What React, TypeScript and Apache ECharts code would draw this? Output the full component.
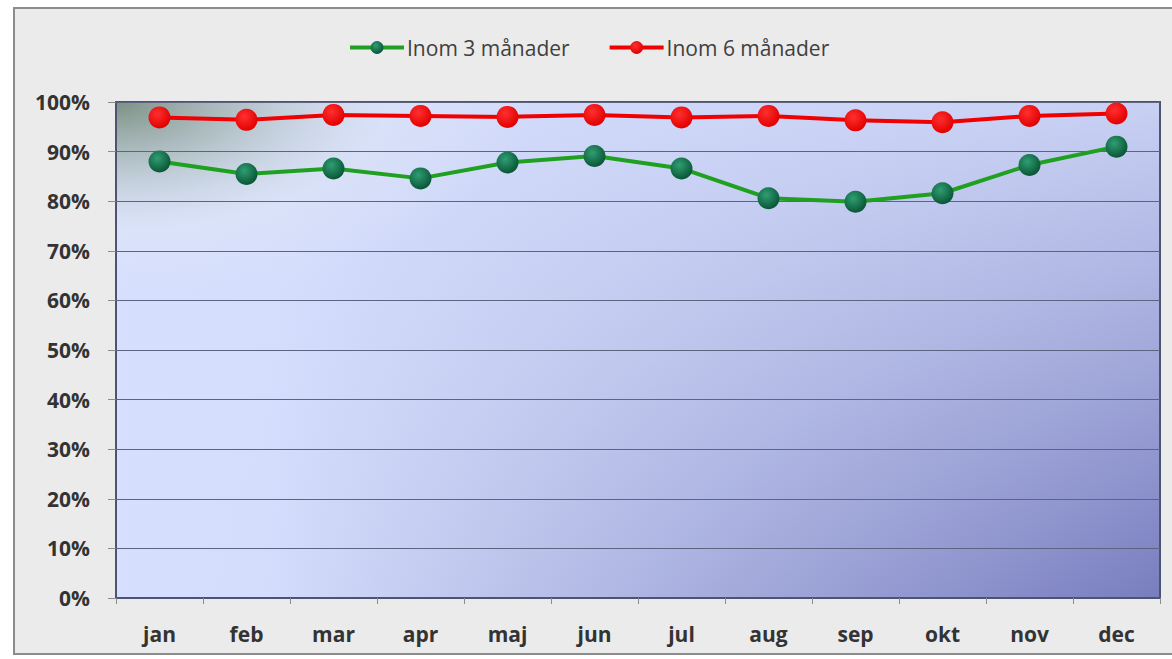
import React, { useEffect, useRef } from "react";
import * as echarts from "echarts";

const months = ["jan", "feb", "mar", "apr", "maj", "jun", "jul", "aug", "sep", "okt", "nov", "dec"];
const within3 = [0.88, 0.855, 0.866, 0.846, 0.878, 0.891, 0.866, 0.806, 0.799, 0.816, 0.873, 0.91];
const within6 = [0.969, 0.964, 0.974, 0.972, 0.97, 0.974, 0.969, 0.972, 0.963, 0.959, 0.972, 0.977];
const seriesNames = ["Inom 3 månader", "Inom 6 månader"];

const GL = 116, GT = 102, GW = 1044, GH = 496;

export default function App() {
  const ref = useRef<HTMLDivElement>(null);
  useEffect(() => {
    document.body.style.margin = "0";
    const chart = echarts.init(ref.current!, null, { renderer: "svg" });
    const font = "'Open Sans', 'Noto Sans', sans-serif";
    const greenSym = new echarts.graphic.RadialGradient(0.4, 0.35, 0.65, [
      { offset: 0, color: "#2f9e72" },
      { offset: 1, color: "#0a5637" },
    ]);
    const redSym = new echarts.graphic.RadialGradient(0.4, 0.35, 0.65, [
      { offset: 0, color: "#ff3030" },
      { offset: 1, color: "#e20000" },
    ]);
    chart.setOption({
      animation: false,
      backgroundColor: "#ffffff",
      graphic: [
        {
          type: "rect",
          z: -30,
          silent: true,
          shape: { x: 14, y: 8, width: 1170, height: 646 },
          style: { fill: "#ebebeb", stroke: "#8c8c8c", lineWidth: 2 },
        },
        {
          type: "rect",
          z: -20,
          silent: true,
          shape: { x: GL, y: GT, width: GW, height: GH },
          style: {
            fill: new echarts.graphic.LinearGradient(0, 0, 1, 0, [
              { offset: 0, color: "#d6dffd" },
              { offset: 0.15, color: "#d3dcfb" },
              { offset: 1, color: "#787dbe" },
            ]),
          },
        },
        {
          type: "rect",
          z: -19,
          silent: true,
          shape: { x: GL, y: GT, width: GW, height: GH },
          style: {
            fill: new echarts.graphic.LinearGradient(0, 0, 0, 1, [
              { offset: 0, color: "rgba(214,223,253,0.85)" },
              { offset: 0.5, color: "rgba(214,223,253,0.45)" },
              { offset: 1, color: "rgba(214,223,253,0)" },
            ]),
          },
        },
        {
          type: "rect",
          z: -18,
          silent: true,
          shape: { x: GL, y: GT, width: GW, height: GH },
          style: {
            fill: new echarts.graphic.RadialGradient(0, 0, 0.4, [
              { offset: 0, color: "rgba(120,140,125,0.95)" },
              { offset: 0.3, color: "rgba(165,182,178,0.7)" },
              { offset: 0.65, color: "rgba(228,234,244,0.35)" },
              { offset: 1, color: "rgba(228,234,244,0)" },
            ]),
          },
        },
      ],
      legend: {
        left: 343,
        top: 32,
        itemWidth: 54,
        itemHeight: 16,
        itemGap: 38,
        lineStyle: { width: 4 },
        textStyle: { fontFamily: font, fontSize: 21, color: "#404040", padding: [0, 0, 0, -2] },
        data: seriesNames,
      },
      grid: {
        left: GL,
        top: GT,
        width: GW,
        height: GH,
        show: true,
        backgroundColor: "transparent",
        borderColor: "#4b5470",
        borderWidth: 2,
      },
      xAxis: {
        type: "category",
        data: months,
        boundaryGap: true,
        axisLine: { lineStyle: { color: "#4b5470", width: 2 } },
        axisTick: { show: true, length: 6, lineStyle: { color: "#8c8c8c" } },
        axisLabel: {
          margin: 25,
          fontFamily: font,
          fontSize: 21,
          fontWeight: "bold",
          color: "#333333",
        },
      },
      yAxis: {
        type: "value",
        min: 0,
        max: 1,
        interval: 0.1,
        axisLine: { show: true, lineStyle: { color: "#4b5470", width: 2 } },
        axisTick: { show: true, length: 8, lineStyle: { color: "#8c8c8c" } },
        axisLabel: {
          margin: 26,
          fontFamily: font,
          fontSize: 21,
          fontWeight: "bold",
          color: "#333333",
          formatter: (v: number) => Math.round(v * 100) + "%",
        },
        splitLine: { show: true, lineStyle: { color: "#5d6380", width: 1 } },
      },
      series: [
        {
          name: seriesNames[0],
          type: "line",
          data: within3,
          symbol: "circle",
          symbolSize: 22,
          lineStyle: { color: "#20a020", width: 4 },
          itemStyle: { color: greenSym },
        },
        {
          name: seriesNames[1],
          type: "line",
          data: within6,
          symbol: "circle",
          symbolSize: 22,
          lineStyle: { color: "#f00000", width: 4 },
          itemStyle: { color: redSym },
        },
      ],
    });
    return () => chart.dispose();
  }, []);
  return <div ref={ref} style={{ width: 1172, height: 659 }} />;
}
